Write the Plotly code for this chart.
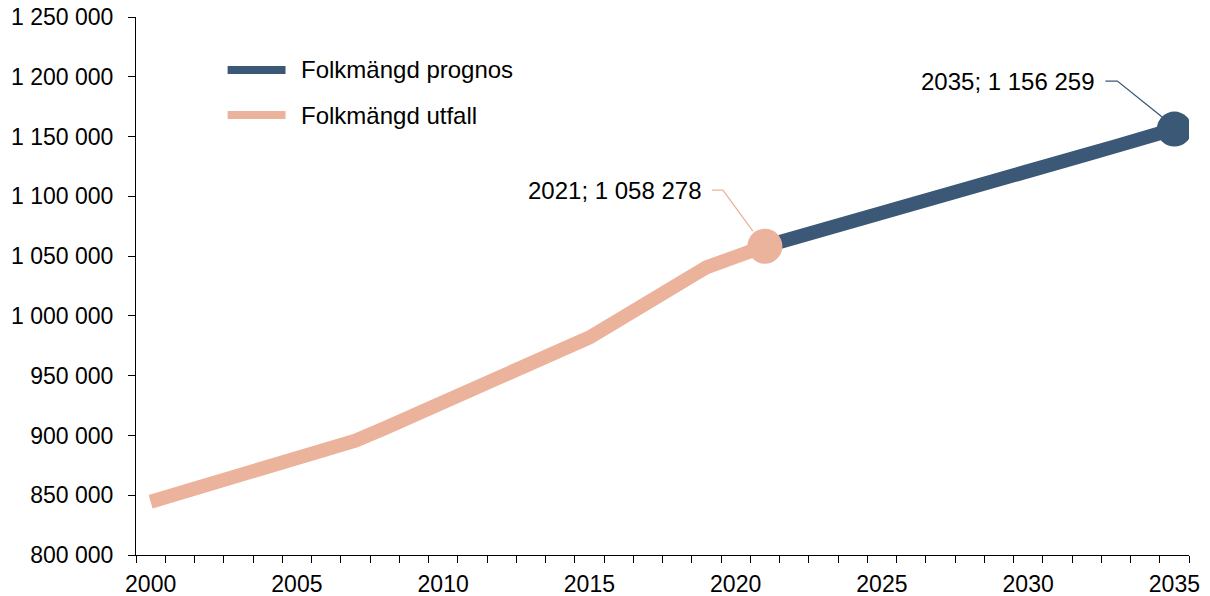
import plotly.graph_objects as go

# folkmängd, utfall och prognos
years_utfall = list(range(2000, 2022))
folkmangd_utfall = [844600, 851500, 858500, 865500, 872500, 879500, 887500, 895600,
                    906000, 916500, 927500, 937500, 948000, 958300, 970000, 982000,
                    996500, 1011500, 1026800, 1040600, 1049500, 1058278]
years_prognos = list(range(2021, 2036))
folkmangd_prognos = [1058278, 1065000, 1072500, 1079500, 1086500, 1093500, 1100500,
                     1107500, 1114000, 1121000, 1128000, 1135000, 1142000, 1149000,
                     1156259]
label_years = list(range(2000, 2036, 5))

PROGNOS = "#3B5876"
UTFALL = "#EBB39B"
FONT = "Liberation Sans, Arial, sans-serif"

fig = go.Figure()
fig.add_trace(go.Scatter(x=years_prognos, y=folkmangd_prognos, mode="lines",
                         line=dict(color=PROGNOS, width=14), showlegend=False,
                         hoverinfo="skip"))
fig.add_trace(go.Scatter(x=years_utfall, y=folkmangd_utfall, mode="lines",
                         line=dict(color=UTFALL, width=14), showlegend=False,
                         hoverinfo="skip"))
# slutpunkter
fig.add_trace(go.Scatter(x=years_utfall[-1:], y=folkmangd_utfall[-1:], mode="markers",
                         marker=dict(color=UTFALL, size=35), showlegend=False))
fig.add_trace(go.Scatter(x=years_prognos[-1:], y=folkmangd_prognos[-1:], mode="markers",
                         marker=dict(color=PROGNOS, size=35), showlegend=False))


def fmt(v):
    return f"{v:,}".replace(",", " ")


end_points = [
    (years_utfall[-1], folkmangd_utfall[-1], UTFALL, -61, 56, "M-53,56 H-42 L-12,15"),
    (years_prognos[-1], folkmangd_prognos[-1], PROGNOS, -77, 48, "M-69,48 H-57 L-11,11"),
]
for yr, val, col, xs, ys, path in end_points:
    fig.add_annotation(x=yr, y=val, text=f"{yr}; {fmt(val)}", showarrow=False,
                       xanchor="right", yanchor="middle", xshift=xs, yshift=ys,
                       font=dict(size=24, color="black", family=FONT))
    fig.add_shape(type="path", xref="x", yref="y", xsizemode="pixel", ysizemode="pixel",
                  xanchor=yr, yanchor=val, path=path,
                  line=dict(color=col, width=1.3))

# egen legend
legend_items = [("Folkmängd prognos", PROGNOS, 0.9015), ("Folkmängd utfall", UTFALL, 0.8178)]
for name, col, yp in legend_items:
    fig.add_shape(type="line", xref="paper", yref="paper", x0=0.087, x1=0.142, y0=yp, y1=yp,
                  line=dict(color=col, width=8))
    fig.add_annotation(x=0.1545, y=yp, xref="paper", yref="paper", text=name,
                       showarrow=False, xanchor="left", yanchor="middle",
                       font=dict(size=24, color="black", family=FONT))

fig.update_layout(
    width=1210, height=596,
    margin=dict(l=136, r=21, t=17, b=41),
    paper_bgcolor="white", plot_bgcolor="white",
    separators=", ",
    font=dict(family=FONT, size=23, color="black"),
    xaxis=dict(range=[1999.5, 2035.5], tickvals=label_years, ticks="",
               showline=True, linecolor="black", linewidth=1, showgrid=False,
               zeroline=False, ticklabelstandoff=8, automargin=False,
               minor=dict(ticks="outside", tick0=1999.5, dtick=1, ticklen=7,
                          tickcolor="black", tickwidth=1, showgrid=False)),
    yaxis=dict(range=[800000, 1250000], dtick=50000, tickformat=",d", ticks="outside",
               ticklen=7, tickcolor="black", tickwidth=1, showline=True,
               linecolor="black", linewidth=1, showgrid=False, zeroline=False,
               ticklabelstandoff=10, automargin=False),
)

fig.write_html("out.html", config={"displayModeBar": False},
               post_script="document.body.style.margin='0px';")
